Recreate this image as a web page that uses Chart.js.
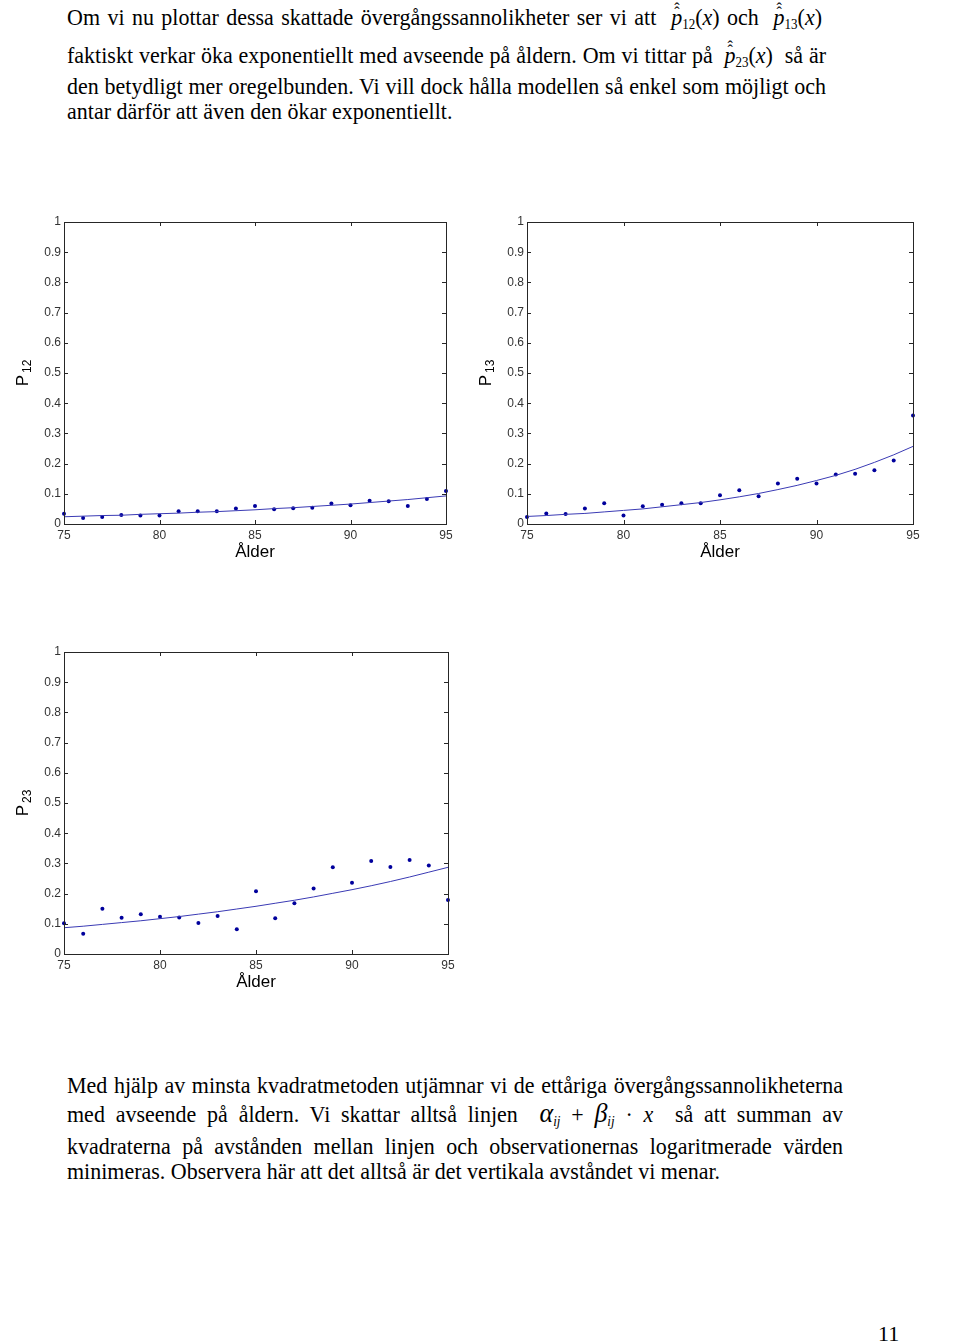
<!DOCTYPE html>
<html lang="sv">
<head>
<meta charset="utf-8">
<script src="https://cdn.jsdelivr.net/npm/chart.js@4.4.1/dist/chart.umd.min.js"></script>
<style>
body { margin: 0; background: #fff; }
#page { position: relative; width: 960px; height: 1343px; font-family: 'Liberation Serif', 'Times New Roman', serif; color: #000; overflow: hidden; }
.line { position: absolute; left: 67px; width: 759px; font-size: 22px; line-height: 24px; white-space: nowrap; transform: scaleY(1.08); transform-origin: 0 50%; }
.just { text-align: justify; text-align-last: justify; white-space: normal; }
.bot { width: 776px; }
.hat { font-style: italic; position: relative; display: inline-block; }
.hat::before, .hat::after { content: 'ˆ'; position: absolute; left: 3px; font-style: normal; font-size: 16px; }
.hat::before { top: -4px; }
.hat::after { top: -8px; }
.m sub { font-size: 13px; vertical-align: -4px; line-height: 0; }
.gr { font-style: italic; font-size: 26px; }
.box { position: absolute; }
.pnum { position: absolute; left: 878px; top: 1321px; font-size: 22px; }
</style>
</head>
<body>
<div id="page">

<div class="line just" style="top:5px;width:755px">Om vi nu plottar dessa skattade övergångssannolikheter ser vi att &nbsp;<span class="m"><span class="hat">p</span><sub>12</sub>(<i>x</i>)</span>&nbsp;och &nbsp;<span class="m"><span class="hat">p</span><sub>13</sub>(<i>x</i>)</span></div>
<div class="line just" style="top:43px">faktiskt verkar öka exponentiellt med avseende på åldern. Om vi tittar på &nbsp;<span class="m"><span class="hat">p</span><sub>23</sub>(<i>x</i>)</span>&nbsp; så är</div>
<div class="line just" style="top:74px">den betydligt mer oregelbunden. Vi vill dock hålla modellen så enkel som möjligt och</div>
<div class="line" style="top:99px">antar därför att även den ökar exponentiellt.</div>

<div class="box" style="left:0;top:195px;width:470px;height:375px"><canvas id="c12"></canvas></div>
<div class="box" style="left:463px;top:195px;width:470px;height:375px"><canvas id="c13"></canvas></div>
<div class="box" style="left:0;top:625px;width:470px;height:375px"><canvas id="c23"></canvas></div>

<div class="line just bot" style="top:1073px">Med hjälp av minsta kvadratmetoden utjämnar vi de ettåriga övergångssannolikheterna</div>
<div class="line just bot" style="top:1101px">med avseende på åldern. Vi skattar alltså linjen &nbsp;<span class="m"><span class="gr">α</span><sub><i>ij</i></sub> + <span class="gr">β</span><sub><i>ij</i></sub> · <i>x</i></span>&nbsp; så att summan av</div>
<div class="line just bot" style="top:1134px">kvadraterna på avstånden mellan linjen och observationernas logaritmerade värden</div>
<div class="line" style="top:1159px">minimeras. Observera här att det alltså är det vertikala avståndet vi menar.</div>

<div class="pnum">11</div>
</div>

<script>
const ages = [ 75, 76, 77, 78, 79, 80, 81, 82, 83, 84, 85, 86, 87, 88, 89, 90, 91, 92, 93, 94, 95 ];

const obs12 = [ 0.034, 0.020, 0.023, 0.030, 0.028, 0.028, 0.042, 0.042, 0.042, 0.051, 0.060, 0.049, 0.052, 0.054, 0.068, 0.062, 0.077, 0.075, 0.060, 0.083, 0.109 ];
const fit12 = [ 0.024, 0.026, 0.028, 0.029, 0.032, 0.034, 0.036, 0.039, 0.041, 0.044, 0.047, 0.051, 0.054, 0.058, 0.062, 0.066, 0.071, 0.076, 0.081, 0.087, 0.093 ];

const obs13 = [ 0.023, 0.035, 0.033, 0.051, 0.069, 0.028, 0.059, 0.064, 0.069, 0.069, 0.095, 0.112, 0.092, 0.134, 0.150, 0.134, 0.164, 0.166, 0.178, 0.210, 0.359 ];
const fit13 = [ 0.025, 0.028, 0.032, 0.035, 0.040, 0.045, 0.050, 0.057, 0.064, 0.071, 0.080, 0.090, 0.101, 0.114, 0.128, 0.144, 0.161, 0.181, 0.204, 0.229, 0.257 ];

const obs23 = [ 0.102, 0.067, 0.150, 0.120, 0.132, 0.123, 0.121, 0.103, 0.126, 0.082, 0.208, 0.118, 0.168, 0.217, 0.287, 0.236, 0.308, 0.288, 0.311, 0.293, 0.179 ];
const fit23 = [ 0.087, 0.092, 0.098, 0.104, 0.110, 0.117, 0.124, 0.132, 0.140, 0.149, 0.158, 0.168, 0.178, 0.189, 0.201, 0.213, 0.226, 0.240, 0.255, 0.271, 0.287 ];

const xTicks = [ 75, 80, 85, 90, 95 ];
const yTickLabels = [ '0', '0.1', '0.2', '0.3', '0.4', '0.5', '0.6', '0.7', '0.8', '0.9', '1' ];
const yMin = 0, yMax = 1, yStep = 0.1;

// box + inward ticks on all four sides, like a matlab axes
const framePlugin = {
    id: 'frame',
    afterDraw ( chart ) {
        const { ctx, chartArea: a, scales: { x, y } } = chart;
        ctx.save();
        ctx.strokeStyle = '#262626';
        ctx.lineWidth = 1;
        ctx.strokeRect( Math.round( a.left ) + 0.5, Math.round( a.top ) + 0.5, Math.round( a.width ), Math.round( a.height ) );
        ctx.beginPath();
        x.ticks.forEach( t => {
            const px = Math.round( x.getPixelForValue( t.value ) ) + 0.5;
            ctx.moveTo( px, a.bottom ); ctx.lineTo( px, a.bottom - 4 );
            ctx.moveTo( px, a.top ); ctx.lineTo( px, a.top + 4 );
        } );
        y.ticks.forEach( t => {
            const py = Math.round( y.getPixelForValue( t.value ) ) + 0.5;
            ctx.moveTo( a.left, py ); ctx.lineTo( a.left + 4, py );
            ctx.moveTo( a.right, py ); ctx.lineTo( a.right - 4, py );
        } );
        ctx.stroke();
        ctx.restore();
    }
};

// rotated y label "P" with a real subscript
const yTitlePlugin = {
    id: 'ytitle',
    afterDraw ( chart, args, opts ) {
        const { ctx, chartArea: a } = chart;
        ctx.save();
        ctx.translate( 28, ( a.top + a.bottom ) / 2 );
        ctx.rotate( -Math.PI / 2 );
        ctx.fillStyle = '#000';
        ctx.textBaseline = 'alphabetic';
        ctx.font = '17px Liberation Sans, Arial, sans-serif';
        const w = ctx.measureText( 'P' ).width;
        const sw = ( ctx.font = '12px Liberation Sans, Arial, sans-serif', ctx.measureText( opts.sub ).width );
        const x0 = -( w + sw + 2 ) / 2;
        ctx.font = '17px Liberation Sans, Arial, sans-serif';
        ctx.fillText( 'P', x0, 0 );
        ctx.font = '12px Liberation Sans, Arial, sans-serif';
        ctx.fillText( opts.sub, x0 + w + 2, 3 );
        ctx.restore();
    }
};

function renderProbChart ( canvas, obs, fit, sub, pad ) {

    new Chart( canvas, {
        type: 'scatter',
        data: {
            datasets: [ {
                data: ages.map( ( a, i ) => ( { x: a, y: fit[ i ] } ) ),
                showLine: true,
                pointRadius: 0,
                borderColor: '#3a3ab4',
                borderWidth: 1,
                tension: 0,
                clip: false
            }, {
                data: ages.map( ( a, i ) => ( { x: a, y: obs[ i ] } ) ),
                pointRadius: 2,
                pointStyle: 'circle',
                backgroundColor: '#00009c',
                borderColor: '#00009c',
                borderWidth: 0,
                clip: false
            } ]
        },
        options: {
            layout: { padding: pad },
            plugins: { legend: { display: false }, tooltip: { enabled: false }, ytitle: { sub } },
            scales: {
                x: {
                    type: 'linear',
                    min: ages[ 0 ], max: ages[ ages.length - 1 ],
                    afterBuildTicks: s => { s.ticks = xTicks.map( v => ( { value: v } ) ); },
                    afterFit: s => { s.height = 39; },
                    grid: { display: false, drawTicks: false },
                    border: { display: false },
                    ticks: { color: '#333', font: { size: 12 }, padding: 4, maxRotation: 0 },
                    title: { display: true, text: 'Ålder', color: '#000', font: { size: 17 }, padding: 0 }
                },
                y: {
                    min: yMin, max: yMax,
                    ticks: {
                        stepSize: yStep, color: '#333', font: { size: 12 }, padding: 3,
                        callback: ( v, i ) => yTickLabels[ i ]
                    },
                    afterFit: s => { s.width = 64; },
                    grid: { display: false, drawTicks: false },
                    border: { display: false }
                }
            }
        },
        plugins: [ framePlugin, yTitlePlugin ]
    } );

}

Chart.defaults.responsive = true;
Chart.defaults.maintainAspectRatio = false;
Chart.defaults.animation = false;
Chart.defaults.font.family = 'Liberation Sans, Arial, sans-serif';

renderProbChart( document.getElementById( 'c12' ), obs12, fit12, '12', { left: 0, top: 27, right: 24, bottom: 7 } );
renderProbChart( document.getElementById( 'c13' ), obs13, fit13, '13', { left: 0, top: 27, right: 20, bottom: 7 } );
renderProbChart( document.getElementById( 'c23' ), obs23, fit23, '23', { left: 0, top: 27, right: 22, bottom: 7 } );
</script>
</body>
</html>
